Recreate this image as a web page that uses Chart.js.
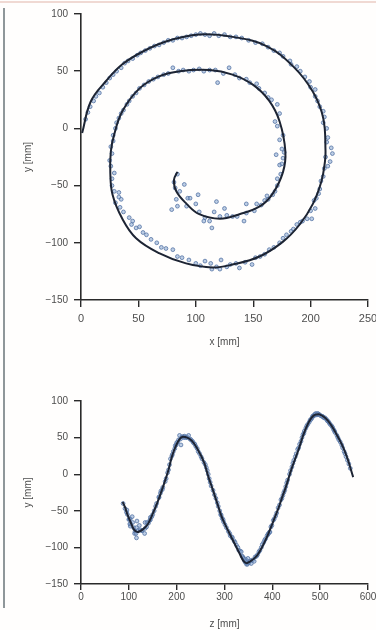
<!DOCTYPE html>
<html>
<head>
<meta charset="utf-8">
<script src="https://cdn.jsdelivr.net/npm/chart.js@4.4.1/dist/chart.umd.min.js"></script>
<style>
  html, body { margin: 0; padding: 0; background: #fff; }
  #page { position: relative; width: 376px; height: 630px; overflow: hidden; background: #fffefd; }
  #topline { position: absolute; left: 0; top: 1px; width: 376px; height: 2px; background: #f0d9d3; }
  #edge { position: absolute; left: 3px; top: 8px; width: 2px; height: 600px; background: #8f979a; }
  .box { position: absolute; left: 0; width: 376px; }
</style>
</head>
<body>
<div id="page">
  <div id="topline"></div>
  <div id="edge"></div>
  <div class="box" style="top:0;height:350px"><canvas id="xyChart"></canvas></div>
  <div class="box" style="top:350px;height:280px"><canvas id="zyChart"></canvas></div>
</div>
<script>
// ── Data (mm): fitted helix path and measured samples, each as [x, y, z] ──
const fitPath = [
  [84,-38,87],[81,-45,92],[83,-55,97],[92,-66,104],[103,-75,110],[121,-79,118],[138,-75,130],
  [156,-68,140],[167,-57,148],[176,-38,160],[178,-20,170],[173,6,183],[164,24,190],[150,38,198],
  [132,47,205],[112,51,213],[86,50,222],[68,45.5,232],[51,35,243],[36,15,258],[29,-5,267],
  [26,-20,275],[25.5,-38,284],[27.5,-58,294],[36,-79,309],[48,-96,322],[68,-109,332],
  [91.5,-118,339],[114.5,-121.5,346],[132,-119,354],[155.5,-112,367],[176,-99,379],[190.5,-84,390],
  [202,-66,401],[209.5,-46,413],[212.5,-29,422],[213,-20,427],[211,9,441],[202,32,454],[185,54,465],
  [161.5,72,477],[132,80,486],[103,82,496],[74,76,512],[53.5,67,523],[36,56,533],[21.5,41,545],
  [8.5,23.5,556],[1,-4,569]
];

const innerSamples = [
  [84,-40,88],[81,-47,92],[82,-52,95],[86,-55,97],[90,-49,96],[83,-62,100],[79,-71,103],[84,-68,102],
  [93,-61,101],[92,-68,104],[95,-61,103],[100,-66,108],[102,-58,107],[103,-73,110],[107,-81,112],
  [108,-78,113],[112,-81,115],[114,-87,116],[116,-73,116],[118,-64,117],[121,-77,119],[125,-70,122],
  [127,-76,124],[132,-77,127],[136,-77,128],[142,-81,133],[144,-74,134],[144,-66,134],[151,-72,137],
  [153,-66,138],[157,-67,141],[160,-63,144],[162,-59,145],[163,-62,145],[167,-58,148],[169,-55,150],
  [171,-50,153],[171,-44,156],[174,-40,158],[173,-32,163],[175,-31,163],[170,-23,167],[176,-26,166],
  [175,-18,171],[177,-21,170],[173,-10,176],[176,-6,178],[171,2,181],[169,6,183],[173,13,185],
  [171,21,187],[166,25,190],[163,27,191],[160,31,193],[155,35,196],[153,39,197],[147,40,199],
  [144,43,200],[138,44,202],[134,47,204],[129,53,206],[124,48,208],[119,40,209],[117,51,211],
  [112,51,213],[107,50,215],[103,52,216]
];

const middleSamples = [
  [98,51,217],[94,50,219],[89,51,221],[85,50,222],[80,53,225],[76,48,228],[72,47,230],[67,45,233],
  [63,43,235],[59,41,238],[55,38,240],[51,35,243],[48,31,245],[45,28,248],[42,24,251],[40,21,253],
  [37,16,257],[35,13,260],[33,9,262],[31,5,264],[30,0,266],[28,-6,268],[28,-11,270],[26,-16,272],
  [27,-22,276],[25,-28,279],[26,-33,282],[29,-39,285],[27,-44,287],[27,-50,290],[29,-55,292],
  [33,-56,293],[33,-60,295],[35,-62,297],[30,-65,298],[34,-69,301],[37,-73,304],[42,-78,308],
  [45,-81,311],[44,-84,312],[48,-87,316],[51,-86,316],[54,-91,320],[57,-93,322],[61,-97,325],
  [66,-100,328],[70,-104,330],[74,-105,333],[80,-106,335],[84,-112,337],[88,-113,338],[94,-115,340],
  [100,-118,342],[104,-120,343],[108,-116,344],[113,-118,346]
];

const outerSamples = [
  [114,-123,346],[118,-121,347],[121,-123,348],[122,-115,349],[127,-121,351],[130,-119,353],
  [135,-118,355],[138,-122,356],[143,-117,359],[149,-119,362],[152,-113,364],[156,-112,367],
  [160,-110,369],[164,-106,372],[168,-104,374],[173,-100,377],[176,-96,379],[179,-93,382],
  [183,-90,384],[185,-88,386],[188,-84,389],[191,-82,391],[193,-81,392],[197,-79,394],[201,-79,395],
  [200,-72,397],[204,-70,399],[203,-63,402],[205,-61,404],[207,-57,407],[208,-53,409],[209,-46,412],
  [211,-42,415],[212,-35,418],[215,-33,420],[217,-29,422],[213,-25,424],[219,-22,426],[218,-17,428],
  [214,-12,430],[215,-8,432],[214,0,436],[211,5,438],[212,10,441],[211,15,443],[208,19,445],
  [206,24,448],[204,28,450],[204,34,453],[200,36,455],[199,41,457],[195,45,460],[191,50,462],
  [188,54,464],[183,56,466],[182,59,467],[176,63,470],[173,66,472],[168,68,474],[163,71,477],
  [158,74,479],[152,75,481],[146,77,483],[140,79,484],[135,80,486],[130,80,487],[125,82,489],
  [120,81,490],[116,83,491],[112,81,493],[108,82,494],[104,83,495],[100,82,497],[96,81,499],
  [92,80,501],[88,79,504],[84,79,505],[80,77,508],[76,77,510],[72,75,513],[68,73,515],[64,72,517],
  [60,70,519],[56,68,521],[52,66,524],[49,64,526],[45,61,528],[41,59,530],[38,57,531],[35,53,535],
  [31,50,537],[28,47,539],[25,44,542],[22,40,545],[19,36,547],[16,31,550],[13,28,552],[11,24,554],
  [8,19,557],[6,14,560],[4,8,563]
];

const xTicks = [0, 50, 100, 150, 200, 250];
const yTicks = [-150, -100, -50, 0, 50, 100];
const zTicks = [0, 100, 200, 300, 400, 500, 600];

// ── Shared style ──
const FONT = "'Liberation Sans', Arial, sans-serif";
const AXIS = "#2a2a2a", TICK = "#4d4d4d", LINE = "#1d2433";
const DOT_FILL = "rgba(135,165,210,0.55)", DOT_EDGE = "#5574a3";

const samples = [...innerSamples, ...middleSamples, ...outerSamples];
const fmt = (v) => (v < 0 ? "\u2212" + Math.abs(v) : String(v));

function makeChart(id, hKey, ticksH, xTitle, opts) {
  const line = fitPath.map((p) => ({ x: p[hKey], y: p[1] }));
  const dots = samples.map((p) => ({ x: p[hKey], y: p[1] }));
  return new Chart(document.getElementById(id), {
    type: "scatter",
    data: {
      datasets: [
        {
          data: line,
          showLine: true,
          borderColor: LINE,
          borderWidth: 2,
          pointRadius: 0,
          tension: 0.4,
          cubicInterpolationMode: opts.mono ? "monotone" : "default",
          order: 0,
          clip: false
        },
        {
          data: dots,
          pointRadius: 1.9,
          pointBackgroundColor: DOT_FILL,
          pointBorderColor: DOT_EDGE,
          pointBorderWidth: 0.8,
          order: 1,
          clip: false
        }
      ]
    },
    options: {
      responsive: true,
      maintainAspectRatio: false,
      animation: false,
      events: [],
      layout: { padding: { left: 0, right: 8, top: opts.top, bottom: 0 } },
      plugins: { legend: { display: false }, tooltip: { enabled: false } },
      scales: {
        x: {
          type: "linear",
          min: ticksH[0],
          max: ticksH[ticksH.length - 1],
          grid: { drawOnChartArea: false, drawTicks: true, tickLength: opts.tl, color: AXIS, lineWidth: 1.4 },
          border: { display: true, color: AXIS, width: 1.6 },
          ticks: {
            color: TICK, padding: opts.xPad, maxRotation: 0, autoSkip: false,
            font: { family: FONT, size: opts.xFont }, callback: fmt
          },
          title: {
            display: true, text: xTitle, color: TICK,
            font: { family: FONT, size: 10 }, padding: { top: 0, bottom: opts.titlePad }
          },
          afterBuildTicks: (s) => { s.ticks = ticksH.map((v) => ({ value: v })); },
          afterFit: (s) => { s.height = opts.xAxisH; s.paddingLeft = 0; s.paddingRight = 0; }
        },
        y: {
          type: "linear",
          min: yTicks[0],
          max: yTicks[yTicks.length - 1],
          grid: { drawOnChartArea: false, drawTicks: true, tickLength: 7, color: AXIS, lineWidth: 1.4 },
          border: { display: true, color: AXIS, width: 1.6 },
          ticks: { color: TICK, padding: 6, font: { family: FONT, size: 10 }, callback: fmt },
          title: {
            display: true, text: "y [mm]", color: TICK,
            font: { family: FONT, size: 10 }, padding: { top: 22, bottom: 0 }
          },
          afterBuildTicks: (s) => { s.ticks = yTicks.map((v) => ({ value: v })); },
          afterFit: (s) => { s.width = 81; s.paddingTop = 0; s.paddingBottom = 0; }
        }
      }
    }
  });
}

// ── Top: spiral in the x–y plane ──
makeChart("xyChart", 0, xTicks, "x [mm]", {
  top: 14, xAxisH: 50, tl: 7, xPad: 5, xFont: 11, titlePad: 2, mono: false
});

// ── Bottom: y against z ──
makeChart("zyChart", 2, zTicks, "z [mm]", {
  top: 51, xAxisH: 46, tl: 6, xPad: 1, xFont: 10, titlePad: 0, mono: true
});
</script>
</body>
</html>
